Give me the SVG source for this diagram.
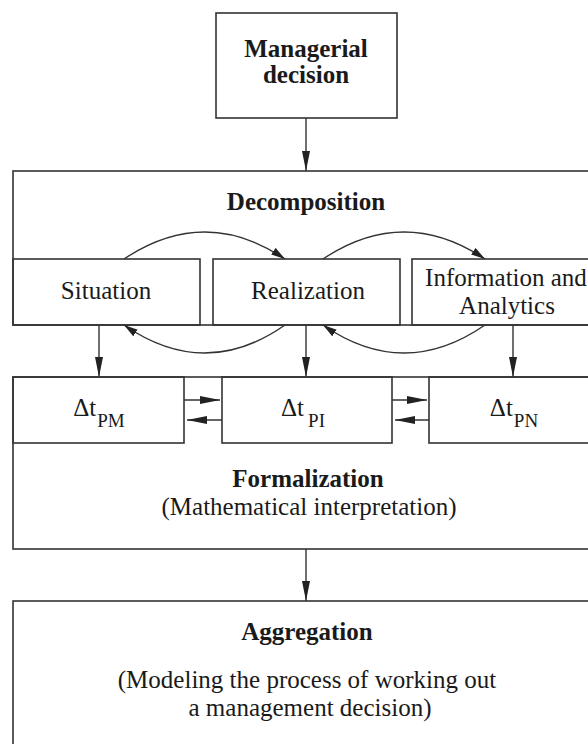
<svg xmlns="http://www.w3.org/2000/svg" width="588" height="744" viewBox="0 0 588 744">
<style>
.box{fill:none;stroke:#333;stroke-width:1.6}
.ln{fill:none;stroke:#333;stroke-width:1.4}
.t{font-family:"Liberation Serif","Times New Roman",serif;font-size:25px;fill:#1a1a1a;text-anchor:middle}
.b{font-weight:bold}
.sub{font-size:19px}
</style>
<defs>
<marker id="ah" markerUnits="userSpaceOnUse" markerWidth="20" markerHeight="8" refX="20" refY="4" orient="auto">
<path d="M0,0 L20,4 L0,8 z" fill="#222"/>
</marker>
<marker id="as" markerUnits="userSpaceOnUse" markerWidth="14" markerHeight="8" refX="14" refY="4" orient="auto">
<path d="M0,0 L14,4 L0,8 z" fill="#222"/>
</marker>
</defs>
<rect width="588" height="744" fill="#fff"/>

<g id="managerial">
<rect class="box" x="216" y="13" width="181" height="105"/>
<text class="t b" x="306" y="57">Managerial</text>
<text class="t b" x="306" y="83">decision</text>
</g>

<g id="decomposition">
<rect class="box" x="13" y="171" width="588" height="154"/>
<text class="t b" x="306" y="210">Decomposition</text>
</g>
<g id="situation">
<rect class="box" x="13" y="259" width="187" height="66"/>
<text class="t" x="106" y="299">Situation</text>
</g>
<g id="realization">
<rect class="box" x="213" y="259" width="187" height="66"/>
<text class="t" x="308" y="299">Realization</text>
</g>
<g id="information">
<rect class="box" x="412" y="259" width="190" height="66"/>
<text class="t" x="506" y="286">Information and</text>
<text class="t" x="507" y="314">Analytics</text>
</g>

<g id="formalization">
<rect class="box" x="13" y="377" width="588" height="172"/>
<text class="t b" x="308" y="487">Formalization</text>
<text class="t" x="309" y="515">(Mathematical interpretation)</text>
</g>
<g id="dt-pm">
<rect class="box" x="13" y="377" width="171" height="66"/>
<text class="t" x="99" y="416">Δt<tspan class="sub" dx="1" dy="11">PM</tspan></text>
</g>
<g id="dt-pi">
<rect class="box" x="222" y="377" width="170" height="66"/>
<text class="t" x="303" y="416">Δt<tspan class="sub" dx="4" dy="11">PI</tspan></text>
</g>
<g id="dt-pn">
<rect class="box" x="429" y="377" width="172" height="66"/>
<text class="t" x="514" y="416">Δt<tspan class="sub" dx="1" dy="11">PN</tspan></text>
</g>

<g id="aggregation">
<rect class="box" x="13" y="601" width="588" height="160"/>
<text class="t b" x="307" y="640">Aggregation</text>
<text class="t" x="307" y="688">(Modeling the process of working out</text>
<text class="t" x="310" y="716">a management decision)</text>
</g>

<g id="connectors">
<line class="ln" x1="306" y1="118" x2="306" y2="171" marker-end="url(#ah)"/>
<path class="ln" d="M124,259 Q205,205 285,259" marker-end="url(#as)"/>
<path class="ln" d="M323,259 Q404,205 485,259" marker-end="url(#as)"/>
<path class="ln" d="M285,325 Q205,381 124,325" marker-end="url(#as)"/>
<path class="ln" d="M485,325 Q404,381 323,325" marker-end="url(#as)"/>
<line class="ln" x1="99" y1="325" x2="99" y2="377" marker-end="url(#ah)"/>
<line class="ln" x1="306" y1="325" x2="306" y2="377" marker-end="url(#ah)"/>
<line class="ln" x1="513" y1="325" x2="513" y2="377" marker-end="url(#ah)"/>
<line class="ln" x1="184" y1="400" x2="220" y2="400" marker-end="url(#ah)"/>
<line class="ln" x1="222" y1="420" x2="187" y2="420" marker-end="url(#ah)"/>
<line class="ln" x1="392" y1="400" x2="427" y2="400" marker-end="url(#ah)"/>
<line class="ln" x1="429" y1="420" x2="395" y2="420" marker-end="url(#ah)"/>
<line class="ln" x1="306" y1="549" x2="306" y2="601" marker-end="url(#ah)"/>
</g>
</svg>
